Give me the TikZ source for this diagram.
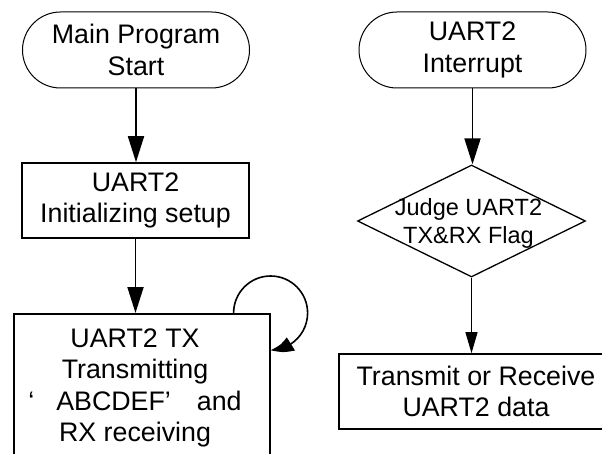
\documentclass[tikz,border=0pt]{standalone}
\usepackage{fontspec}
\setmainfont{Liberation Sans}
\usetikzlibrary{arrows.meta,shapes.misc,shapes.geometric,bending}

\begin{document}
\begin{tikzpicture}[x=1pt,y=-1pt,
  txt/.style={font=\fontsize{26.8}{31.5}\selectfont, align=center},
  terminal/.style={rounded rectangle, draw, line width=1pt, minimum width=227pt,
    minimum height=76pt, inner sep=0pt, txt},
  procbox/.style={rectangle, draw, line width=1.6pt, inner sep=0pt, txt},
  decision/.style={diamond, draw, line width=1.3pt, inner sep=0pt,
    minimum width=228pt, minimum height=112pt},
  flow/.style={line width=1.8pt, -{Triangle[length=26pt,width=16pt]}},
  thinflow/.style={line width=1pt, -{Triangle[length=21pt,width=12pt]}},
  loopflow/.style={line width=1.6pt, -{Triangle[length=22pt,width=15pt,bend]}}]

\clip (0,0) rectangle (602,454);
\useasboundingbox (0,0) rectangle (602,454);

% left column: main program
\node[terminal] (start) at (136,50) {Main Program\\Start};
\node[procbox, minimum width=227pt, minimum height=75pt] (init) at (135.5,200.5)
  {UART2\\Initializing setup};
\node[procbox, minimum width=256pt, minimum height=170pt, anchor=north west]
  (tx) at (13,313) {};
\node[txt] (txlabel) at (135,388)
  {UART2 TX\\Transmitting\\‘\hspace{22pt}ABCDEF’\hspace{26pt}and\\RX receiving};

\draw[flow] (start.south) -- (start.south |- init.north);
\draw[flow] (init.south) -- (init.south |- tx.north);
\draw[loopflow] ([xshift=-37pt]tx.north east)
  arc[start angle=180, end angle=450, radius=37];

% right column: interrupt handler
\node[terminal] (irq) at (472.5,50) {UART2\\Interrupt};
\node[decision] (judge) at (471.5,221) {};
\node[font=\fontsize{23.5}{28}\selectfont, align=center] (judgetext) at (468.5,223)
  {Judge UART2\\TX\&RX Flag};
\node[procbox, minimum width=274pt, minimum height=75pt] (data) at (476,391.5)
  {Transmit or Receive\\UART2 data};

\draw[flow] (irq.south) -- (irq.south |- judge.north);
\draw[thinflow] (judge.south) -- (judge.south |- data.north);
\end{tikzpicture}
\end{document}
